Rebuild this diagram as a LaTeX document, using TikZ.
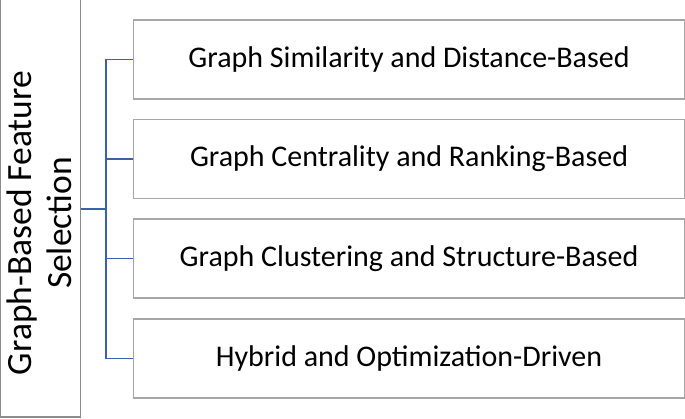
\documentclass[tikz,border=0pt]{standalone}
\usepackage{fontspec}
\setmainfont{Carlito}
\definecolor{boxgray}{HTML}{A6A6A6}
\definecolor{leftgray}{HTML}{8C8C8C}
\definecolor{linkblue}{HTML}{3A62A8}
\begin{document}
\begin{tikzpicture}[x=1pt,y=1pt,
  catbox/.style={draw=boxgray,line width=1.1pt,minimum width=551pt,minimum height=79pt,inner sep=0pt,font=\fontsize{30}{36}\selectfont,anchor=west},
  rootbox/.style={draw=leftgray,line width=1.1pt,minimum width=79.5pt,minimum height=424pt,inner sep=0pt},
  link/.style={draw=linkblue,line width=1.7pt}]
\useasboundingbox (0,0) rectangle (685,-419);
\clip (0,0) rectangle (685,-419);
\node[rootbox] (root) at (40.3,-205) {};
\node[rotate=90,align=center,font=\fontsize{35.5}{40}\selectfont,inner sep=0pt] (roottext) at (39,-223) {Graph-Based Feature\\Selection};
\node[catbox] (c1) at (133,-59.5) {Graph Similarity and Distance-Based};
\node[catbox] (c2) at (133,-159) {Graph Centrality and Ranking-Based};
\node[catbox] (c3) at (133,-258.5) {Graph Clustering and Structure-Based};
\node[catbox] (c4) at (133,-358.5) {Hybrid and Optimization-Driven};
\coordinate (bus) at (106,-209);
\draw[link] (root.east |- bus) -- (bus);
\draw[link] (c1.west) -- (bus |- c1.west) -- (bus |- c4.west) -- (c4.west);
\draw[link] (bus |- c2.west) -- (c2.west);
\draw[link] (bus |- c3.west) -- (c3.west);
\end{tikzpicture}
\end{document}
